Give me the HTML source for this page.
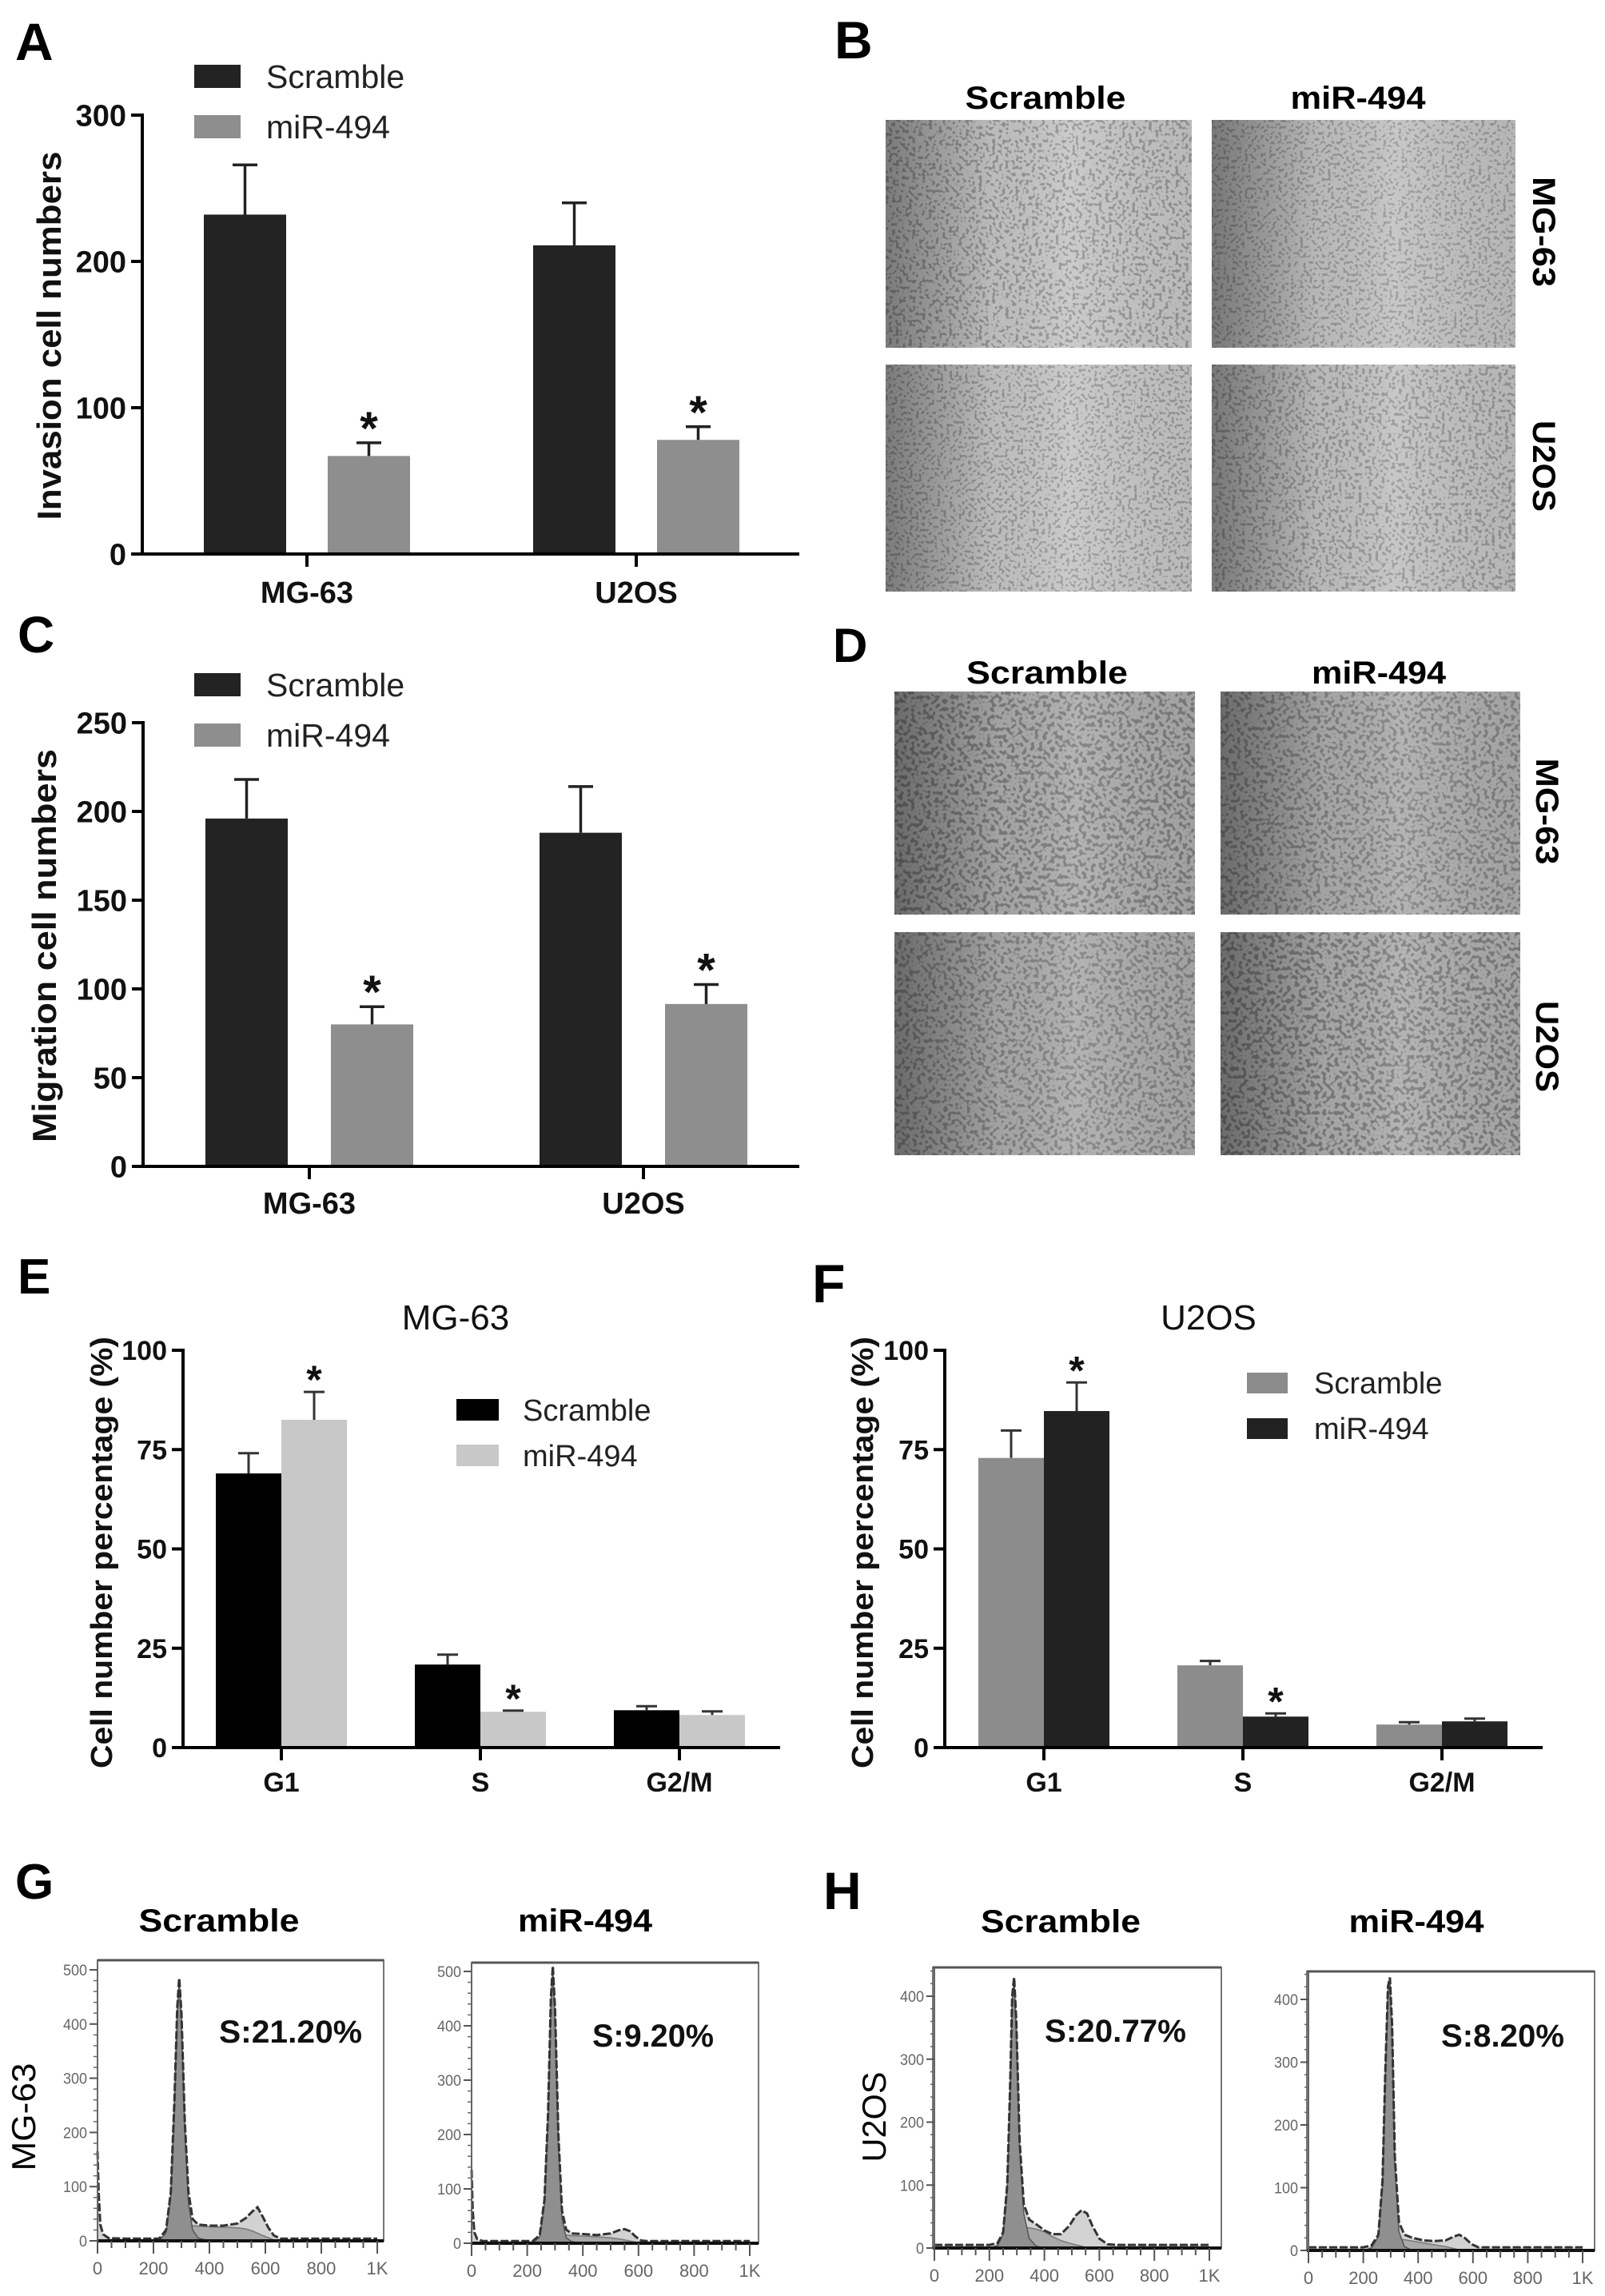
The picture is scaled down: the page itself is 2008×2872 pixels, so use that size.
<!DOCTYPE html>
<html><head><meta charset="utf-8">
<style>
html,body{margin:0;padding:0;background:#fff;}
svg{display:block;font-family:"Liberation Sans",Arial,sans-serif;}
</style></head>
<body>
<svg id="fig" width="2008" height="2872" viewBox="0 0 2008 2872" xmlns="http://www.w3.org/2000/svg">
<defs>
  <filter id="cellsLight" x="0" y="0" width="100%" height="100%">
    <feTurbulence type="fractalNoise" baseFrequency="0.24" numOctaves="1" seed="3"/>
    <feColorMatrix type="matrix" values="0 0 0 0 0.3  0 0 0 0 0.3  0 0 0 0 0.3  -12 0 0 0 5.6"/>
  </filter>
  <filter id="cellsLight2" x="0" y="0" width="100%" height="100%">
    <feTurbulence type="fractalNoise" baseFrequency="0.26" numOctaves="1" seed="11"/>
    <feColorMatrix type="matrix" values="0 0 0 0 0.32  0 0 0 0 0.32  0 0 0 0 0.32  -12 0 0 0 5.5"/>
  </filter>
  <filter id="cellsDark" x="0" y="0" width="100%" height="100%">
    <feTurbulence type="fractalNoise" baseFrequency="0.2" numOctaves="1" seed="7"/>
    <feColorMatrix type="matrix" values="0 0 0 0 0.2  0 0 0 0 0.2  0 0 0 0 0.2  -12 0 0 0 5.9"/>
  </filter>
  <filter id="cellsDark2" x="0" y="0" width="100%" height="100%">
    <feTurbulence type="fractalNoise" baseFrequency="0.21" numOctaves="1" seed="21"/>
    <feColorMatrix type="matrix" values="0 0 0 0 0.22  0 0 0 0 0.22  0 0 0 0 0.22  -12 0 0 0 5.8"/>
  </filter>
  <linearGradient id="vignette" x1="0" y1="0" x2="1" y2="0">
    <stop offset="0" stop-color="#000" stop-opacity="0.38"/>
    <stop offset="0.35" stop-color="#000" stop-opacity="0.05"/>
    <stop offset="0.6" stop-color="#fff" stop-opacity="0.1"/>
    <stop offset="1" stop-color="#000" stop-opacity="0.06"/>
  </linearGradient>
</defs>
<g id="root"></g>
</svg>
<script>
// ---------- Bar chart data ----------
const invCategories = ['MG-63', 'U2OS'];
const invScramble = [232, 211];
const invScrambleErr = [34, 29];
const invMiR = [67, 78];
const invMiRErr = [9, 9];

const migCategories = ['MG-63', 'U2OS'];
const migScramble = [196, 188];
const migScrambleErr = [22, 26];
const migMiR = [80, 91.5];
const migMiRErr = [10, 11];

const mgPhases = ['G1', 'S', 'G2/M'];
const mgScramble = [69, 20.9, 9.4];
const mgScrambleErr = [5.1, 2.5, 1.0];
const mgMiR = [82.5, 9.0, 8.2];
const mgMiRErr = [7.0, 0.3, 0.9];

const uPhases = ['G1', 'S', 'G2/M'];
const uScramble = [72.9, 20.7, 5.8];
const uScrambleErr = [6.9, 1.1, 0.6];
const uMiR = [84.7, 7.8, 6.6];
const uMiRErr = [7.2, 0.8, 0.7];

const ticks300 = [0, 100, 200, 300];
const ticks250 = [0, 50, 100, 150, 200, 250];
const ticks100 = [0, 25, 50, 75, 100];

// ---------- Flow histogram data (channel, count) ----------
const mgScrChan = [0,4,10,20,40,100,220,245,262,275,285,292,300,312,325,340,360,400,450,500,530,555,572,590,610,630,655,700,1000];
const mgScrCount = [165,90,30,12,5,4,4,20,90,260,430,485,420,220,90,40,30,28,28,32,42,55,62,45,25,10,4,4,4];
const mgScrG1 = [0,0,0,0,0,0,0,15,85,255,425,480,410,210,70,20,5,0,0,0,0,0,0,0,0,0,0,0,0];
const mgScrS = [0,0,0,0,0,0,0,0,0,5,12,18,22,26,28,28,27,26,25,24,22,18,14,10,6,2,0,0,0];

const mgMirChan = [0,4,10,20,40,100,220,245,262,275,285,292,300,312,325,340,360,400,450,500,530,550,570,590,610,630,1000];
const mgMirCount = [135,60,20,8,4,4,4,15,80,240,450,510,430,200,60,25,18,17,15,18,24,26,22,12,5,4,4];
const mgMirG1 = [0,0,0,0,0,0,0,12,75,235,445,505,420,190,45,10,3,0,0,0,0,0,0,0,0,0,0];
const mgMirS = [0,0,0,0,0,0,0,0,0,4,8,12,14,15,15,15,14,13,12,10,8,6,4,2,0,0,0];

const uScrChan = [0,100,200,230,250,265,275,283,290,298,310,325,345,370,400,430,460,490,515,535,555,575,600,630,660,1000];
const uScrCount = [5,5,5,8,25,100,250,400,430,360,170,70,45,38,28,22,22,35,52,60,55,35,15,6,5,5];
const uScrG1 = [0,0,0,4,22,96,245,395,425,350,160,55,15,3,0,0,0,0,0,0,0,0,0,0,0,0];
const uScrS = [0,0,0,0,0,4,12,20,26,30,32,33,32,30,26,18,12,8,5,3,0,0,0,0,0,0];

const uMirChan = [0,100,200,230,255,270,280,290,297,305,315,330,350,380,420,460,500,530,550,570,595,620,650,1000];
const uMirCount = [5,5,5,8,25,110,280,420,435,360,150,45,25,20,16,15,16,22,25,20,10,5,5,5];
const uMirG1 = [0,0,0,4,22,105,275,415,430,350,140,30,6,0,0,0,0,0,0,0,0,0,0,0];
const uMirS = [0,0,0,0,0,4,10,14,16,17,18,18,17,15,12,9,6,3,1,0,0,0,0,0];

const flowXTicks = [0, 200, 400, 600, 800, 1000];
const flowXTickLabels = ['0', '200', '400', '600', '800', '1K'];
const flowYTicks500 = [0, 100, 200, 300, 400, 500];
const flowYTicks400 = [0, 100, 200, 300, 400];

// ---------- helpers ----------
const NS = 'http://www.w3.org/2000/svg';
const root = document.getElementById('root');
function mk(tag, attrs, parent) {
  const el = document.createElementNS(NS, tag);
  for (const k in attrs) el.setAttribute(k, attrs[k]);
  (parent || root).appendChild(el);
  return el;
}
function txt(s, attrs, parent) {
  const el = mk('text', attrs, parent);
  el.textContent = s;
  return el;
}
function group(name, parent) {
  const g = mk('g', {}, parent);
  
  
  return g;
}

// panel labels
const panelLabels = [['A',19,75,66],['B',1044,73,66],['C',22,816,64],['D',1042,828,60],['E',22,1618,62],['F',1016,1629,68],['G',19,2375,62],['H',1030,2388,66]];
panelLabels.forEach(p => {
  const t = txt(p[0], {x:p[1], y:p[2], 'font-size':p[3], 'font-weight':'bold', fill:'#000'});
  
  
});

// ---------- bar chart ----------
function barChart(cfg) {
  const g = group(cfg.name);
  const yScale = v => cfg.y0 - (v / cfg.max) * (cfg.y0 - cfg.yTop);
  const xCenter = i => cfg.firstCenter + i * cfg.spacing;
  cfg.categories.forEach((cat, i) => {
    const series = [[cfg.s1, cfg.e1, cfg.c1, -1, cfg.star1], [cfg.s2, cfg.e2, cfg.c2, 1, cfg.star2]];
    series.forEach((sd, si) => {
      const v = sd[0][i], e = sd[1][i];
      const cx = xCenter(i) + sd[3] * (cfg.barW / 2 + cfg.barGap / 2);
      const top = yScale(v);
      const errTop = yScale(v + e);
      const r = mk('rect', {x: cx - cfg.barW / 2, y: top, width: cfg.barW, height: cfg.y0 - top, fill: sd[2]}, g);
      
      
      const ecol = cfg.errColor || '#222';
      const el = mk('path', {d: `M${cx} ${top} V${errTop} M${cx - cfg.cap / 2} ${errTop} H${cx + cfg.cap / 2}`, stroke: ecol, 'stroke-width': cfg.errW, fill: 'none'}, g);
      
      
      if (sd[4] && sd[4][i]) {
        const st = txt('*', {x: cx, y: errTop + cfg.starDy, 'font-size': cfg.starSize, 'font-weight': 'bold', 'text-anchor': 'middle', fill: '#111'}, g);
        
        
      }
    });
  });
  const ax = mk('path', {d: `M${cfg.x0} ${cfg.yTop - 2} V${cfg.y0} H${cfg.xEnd}`, stroke: '#000', 'stroke-width': cfg.axisW, fill: 'none'}, g);
  
  
  cfg.ticks.forEach(t => {
    const y = yScale(t);
    const tk = mk('line', {x1: cfg.x0 - 14, x2: cfg.x0, y1: y, y2: y, stroke: '#000', 'stroke-width': 4}, g);
    
    
    const tl = txt(String(t), {x: cfg.x0 - 20, y: y + cfg.tickFont * 0.36, 'font-size': cfg.tickFont, 'font-weight': 'bold', 'text-anchor': 'end', fill: '#111'}, g);
    
    
  });
  cfg.categories.forEach((cat, i) => {
    const x = xCenter(i);
    const tk = mk('line', {x1: x, x2: x, y1: cfg.y0, y2: cfg.y0 + 16, stroke: '#000', 'stroke-width': 4}, g);
    
    
    const tl = txt(cat, {x: x, y: cfg.xLabelY, 'font-size': cfg.xFont, 'font-weight': 'bold', 'text-anchor': 'middle', fill: '#111'}, g);
    
    
  });
  const yt = txt(cfg.yTitle, {x: 0, y: 0, 'font-size': cfg.yTitleSize, 'font-weight': 'bold', 'text-anchor': 'middle', fill: '#111', transform: `translate(${cfg.yTitleX},${cfg.yTitleY}) rotate(-90)`, textLength: cfg.yTitleLen, lengthAdjust: 'spacingAndGlyphs'}, g);
  
  
  if (cfg.title) {
    const tt = txt(cfg.title, {x: cfg.titleX, y: cfg.titleY, 'font-size': 44, 'text-anchor': 'middle', fill: '#111'}, g);
    
    
  }
  const lg = group('legend', g);
  [[cfg.legendNames[0], cfg.c1, cfg.leg.y1], [cfg.legendNames[1], cfg.c2, cfg.leg.y2]].forEach(l => {
    const sq = mk('rect', {x: cfg.leg.x, y: l[2] - cfg.leg.h, width: cfg.leg.w, height: cfg.leg.h, fill: l[1]}, lg);
    
    
    const lt = txt(l[0], {x: cfg.leg.tx, y: l[2], 'font-size': cfg.leg.font, fill: '#222'}, lg);
    
    
  });
}

barChart({name:'invasion-chart', categories: invCategories, s1: invScramble, e1: invScrambleErr, s2: invMiR, e2: invMiRErr,
  star1: null, star2: [1,1], c1:'#232323', c2:'#8e8e8e', x0:178, xEnd:1000, y0:693, yTop:144, max:300, ticks:ticks300,
  firstCenter:384, spacing:412, barW:103, barGap:52, cap:31, errW:3.5, axisW:4, starDy:2, starSize:58, tickFont:38, xFont:38, xLabelY:754,
  yTitle:'Invasion cell numbers', yTitleSize:42, yTitleX:76, yTitleY:420, yTitleLen:461,
  legendNames:['Scramble','miR-494'], leg:{x:243, w:58, h:29, y1:110, y2:173, tx:333, font:41}});

barChart({name:'migration-chart', categories: migCategories, s1: migScramble, e1: migScrambleErr, s2: migMiR, e2: migMiRErr,
  star1: null, star2: [1,1], c1:'#232323', c2:'#8e8e8e', x0:179, xEnd:1000, y0:1459, yTop:904, max:250, ticks:ticks250,
  firstCenter:387, spacing:418, barW:103, barGap:54, cap:31, errW:3.5, axisW:4, starDy:2, starSize:58, tickFont:38, xFont:38, xLabelY:1518,
  yTitle:'Migration cell numbers', yTitleSize:42, yTitleX:70, yTitleY:1183, yTitleLen:492,
  legendNames:['Scramble','miR-494'], leg:{x:243, w:58, h:29, y1:871, y2:934, tx:333, font:41}});

barChart({name:'mg63-cell-cycle-chart', categories: mgPhases, s1: mgScramble, e1: mgScrambleErr, s2: mgMiR, e2: mgMiRErr,
  star1: null, star2: [1,1,0], c1:'#000000', c2:'#c8c8c8', errColor:'#333', x0:229, xEnd:976, y0:2186, yTop:1689, max:100, ticks:ticks100,
  firstCenter:352, spacing:249, barW:82, barGap:0, cap:26, errW:3, axisW:4, starDy:2, starSize:50, tickFont:34, xFont:34, xLabelY:2241,
  yTitle:'Cell number percentage (%)', yTitleSize:38, yTitleX:140, yTitleY:1942, yTitleLen:540,
  title:'MG-63', titleX:570, titleY:1663,
  legendNames:['Scramble','miR-494'], leg:{x:571, w:53, h:27, y1:1777, y2:1834, tx:654, font:38}});

barChart({name:'u2os-cell-cycle-chart', categories: uPhases, s1: uScramble, e1: uScrambleErr, s2: uMiR, e2: uMiRErr,
  star1: null, star2: [1,1,0], c1:'#8c8c8c', c2:'#222222', errColor:'#333', x0:1182, xEnd:1930, y0:2186, yTop:1689, max:100, ticks:ticks100,
  firstCenter:1306, spacing:249, barW:82, barGap:0, cap:26, errW:3, axisW:4, starDy:2, starSize:50, tickFont:34, xFont:34, xLabelY:2241,
  yTitle:'Cell number percentage (%)', yTitleSize:38, yTitleX:1092, yTitleY:1942, yTitleLen:540,
  title:'U2OS', titleX:1512, titleY:1663,
  legendNames:['Scramble','miR-494'], leg:{x:1560, w:51, h:26, y1:1743, y2:1800, tx:1644, font:38}});

// ---------- micrographs ----------
function micro(name, x, y, w, h, bg, filt) {
  const g = group(name);
  mk('rect', {x, y, width: w, height: h, fill: bg}, g);
  mk('rect', {x, y, width: w, height: h, fill: '#fff', filter: `url(#${filt})`}, g);
  mk('rect', {x, y, width: w, height: h, fill: 'url(#vignette)'}, g);
}
micro('micrograph-invasion-mg63-scramble', 1108, 150, 383, 285, '#c6c6c6', 'cellsLight');
micro('micrograph-invasion-mg63-mir494', 1516, 150, 380, 285, '#c2c2c2', 'cellsLight2');
micro('micrograph-invasion-u2os-scramble', 1108, 456, 383, 284, '#c6c6c6', 'cellsLight2');
micro('micrograph-invasion-u2os-mir494', 1516, 456, 380, 284, '#c2c2c2', 'cellsLight');
micro('micrograph-migration-mg63-scramble', 1119, 865, 376, 279, '#acacac', 'cellsDark');
micro('micrograph-migration-mg63-mir494', 1527, 865, 375, 279, '#adadad', 'cellsDark2');
micro('micrograph-migration-u2os-scramble', 1119, 1166, 376, 279, '#acacac', 'cellsDark2');
micro('micrograph-migration-u2os-mir494', 1527, 1166, 375, 279, '#adadad', 'cellsDark');

function label(s, attrs, name) {
  const t = txt(s, attrs);
  
  
}
label('Scramble', {x:1308, y:136, 'font-size':40, 'font-weight':'bold', 'text-anchor':'middle', textLength:201, lengthAdjust:'spacingAndGlyphs'}, 'column-header-scramble');
label('miR-494', {x:1699, y:136, 'font-size':40, 'font-weight':'bold', 'text-anchor':'middle', textLength:169, lengthAdjust:'spacingAndGlyphs'}, 'column-header-mir494');
label('MG-63', {x:0, y:0, 'font-size':40, 'font-weight':'bold', 'text-anchor':'middle', transform:'translate(1918,290) rotate(90)', textLength:138, lengthAdjust:'spacingAndGlyphs'}, 'row-label-mg63');
label('U2OS', {x:0, y:0, 'font-size':40, 'font-weight':'bold', 'text-anchor':'middle', transform:'translate(1918,583) rotate(90)', textLength:114, lengthAdjust:'spacingAndGlyphs'}, 'row-label-u2os');
label('Scramble', {x:1310, y:855, 'font-size':40, 'font-weight':'bold', 'text-anchor':'middle', textLength:202, lengthAdjust:'spacingAndGlyphs'}, 'column-header-scramble');
label('miR-494', {x:1725, y:855, 'font-size':40, 'font-weight':'bold', 'text-anchor':'middle', textLength:168, lengthAdjust:'spacingAndGlyphs'}, 'column-header-mir494');
label('MG-63', {x:0, y:0, 'font-size':40, 'font-weight':'bold', 'text-anchor':'middle', transform:'translate(1922,1015) rotate(90)', textLength:133, lengthAdjust:'spacingAndGlyphs'}, 'row-label-mg63');
label('U2OS', {x:0, y:0, 'font-size':40, 'font-weight':'bold', 'text-anchor':'middle', transform:'translate(1922,1309) rotate(90)', textLength:114, lengthAdjust:'spacingAndGlyphs'}, 'row-label-u2os');

label('Scramble', {x:274, y:2416, 'font-size':40, 'font-weight':'bold', 'text-anchor':'middle', textLength:201, lengthAdjust:'spacingAndGlyphs'}, 'flow-header-scramble');
label('miR-494', {x:732, y:2416, 'font-size':40, 'font-weight':'bold', 'text-anchor':'middle', textLength:168, lengthAdjust:'spacingAndGlyphs'}, 'flow-header-mir494');
label('Scramble', {x:1327, y:2417, 'font-size':40, 'font-weight':'bold', 'text-anchor':'middle', textLength:200, lengthAdjust:'spacingAndGlyphs'}, 'flow-header-scramble');
label('miR-494', {x:1772, y:2417, 'font-size':40, 'font-weight':'bold', 'text-anchor':'middle', textLength:169, lengthAdjust:'spacingAndGlyphs'}, 'flow-header-mir494');
label('MG-63', {x:0, y:0, 'font-size':42, 'text-anchor':'middle', transform:'translate(44,2648) rotate(-90)', textLength:135, lengthAdjust:'spacingAndGlyphs'}, 'flow-row-label-mg63');
label('U2OS', {x:0, y:0, 'font-size':42, 'text-anchor':'middle', transform:'translate(1108,2648) rotate(-90)', textLength:113, lengthAdjust:'spacingAndGlyphs'}, 'flow-row-label-u2os');

// ---------- flow histograms ----------
function flow(cfg) {
  const g = group(cfg.name);
  const xs = c => cfg.x0 + (c / 1000) * (cfg.x1K - cfg.x0);
  const ys = v => cfg.base - v * cfg.pxPer;
  const box = mk('rect', {x: cfg.left, y: cfg.top, width: cfg.right - cfg.left, height: cfg.base - cfg.top, fill: '#fff', stroke: '#777', 'stroke-width': 2}, g);
  
  
  mk('line', {x1: cfg.left, x2: cfg.right, y1: cfg.top, y2: cfg.top, stroke: '#555', 'stroke-width': 3}, g);
  function areaPath(vals) {
    let d = `M${xs(cfg.chan[0])} ${cfg.base}`;
    cfg.chan.forEach((c, i) => { d += ` L${xs(c)} ${ys(vals[i])}`; });
    d += ` L${xs(cfg.chan[cfg.chan.length - 1])} ${cfg.base} Z`;
    return d;
  }
  const tot = mk('path', {d: areaPath(cfg.count), fill: '#d2d2d2', stroke: 'none'}, g);
  
  
  const sph = mk('path', {d: areaPath(cfg.s), fill: '#a9a9a9', stroke: '#777', 'stroke-width': 1.5}, g);
  
  
  const g1 = mk('path', {d: areaPath(cfg.g1), fill: '#8f8f8f', stroke: '#555', 'stroke-width': 1.5}, g);
  
  
  let d = '';
  cfg.chan.forEach((c, i) => { d += (i ? ' L' : 'M') + xs(c) + ' ' + ys(cfg.count[i]); });
  const ln = mk('path', {d, fill: 'none', stroke: '#333', 'stroke-width': 3, 'stroke-dasharray': '10 3'}, g);
  
  
  mk('line', {x1: cfg.left, x2: cfg.right, y1: cfg.base, y2: cfg.base, stroke: '#111', 'stroke-width': 4}, g);
  mk('line', {x1: cfg.x0, x2: cfg.x0, y1: cfg.top, y2: cfg.base, stroke: '#666', 'stroke-width': 2}, g);
  for (let v = 0; v <= cfg.yMax; v += 20) {
    mk('line', {x1: cfg.x0 - 5, x2: cfg.x0, y1: ys(v), y2: ys(v), stroke: '#666', 'stroke-width': 1.5}, g);
  }
  cfg.yTicks.forEach(v => {
    mk('line', {x1: cfg.x0 - 10, x2: cfg.x0, y1: ys(v), y2: ys(v), stroke: '#555', 'stroke-width': 2}, g);
    const t = txt(String(v), {x: cfg.x0 - 13, y: ys(v) + 7, 'font-size': 19, 'text-anchor': 'end', fill: '#666', textLength: String(v).length * 10, lengthAdjust: 'spacingAndGlyphs'}, g);
    
    
  });
  for (let c = 0; c <= 1000; c += 50) {
    mk('line', {x1: xs(c), x2: xs(c), y1: cfg.base, y2: cfg.base + (c % 200 === 0 ? 16 : 9), stroke: '#555', 'stroke-width': 2}, g);
  }
  flowXTicks.forEach((c, i) => {
    const t = txt(flowXTickLabels[i], {x: xs(c), y: cfg.base + 42, 'font-size': 22, 'text-anchor': 'middle', fill: '#666'}, g);
    
    
  });
  const st = txt(cfg.sText, {x: cfg.sx, y: cfg.sy, 'font-size': 40, 'font-weight': 'bold', fill: '#111', textLength: cfg.sLen, lengthAdjust: 'spacingAndGlyphs'}, g);
  
  
}
flow({name:'flow-mg63-scramble', chan: mgScrChan, count: mgScrCount, g1: mgScrG1, s: mgScrS, left:122, right:480, top:2452, base:2803, x0:122, x1K:472, pxPer:339/500, yMax:500, yTicks: flowYTicks500, sText:'S:21.20%', sx:274, sy:2555, sLen:179});
flow({name:'flow-mg63-mir494', chan: mgMirChan, count: mgMirCount, g1: mgMirG1, s: mgMirS, left:590, right:949, top:2455, base:2806, x0:590, x1K:938, pxPer:340/500, yMax:500, yTicks: flowYTicks500, sText:'S:9.20%', sx:741, sy:2560, sLen:152});
flow({name:'flow-u2os-scramble', chan: uScrChan, count: uScrCount, g1: uScrG1, s: uScrS, left:1167, right:1528, top:2461, base:2812, x0:1169, x1K:1513, pxPer:315/400, yMax:440, yTicks: flowYTicks400, sText:'S:20.77%', sx:1307, sy:2554, sLen:177});
flow({name:'flow-u2os-mir494', chan: uMirChan, count: uMirCount, g1: uMirG1, s: uMirS, left:1635, right:1995, top:2466, base:2815, x0:1637, x1K:1980, pxPer:314/400, yMax:440, yTicks: flowYTicks400, sText:'S:8.20%', sx:1803, sy:2560, sLen:154});
</script>
</body></html>
